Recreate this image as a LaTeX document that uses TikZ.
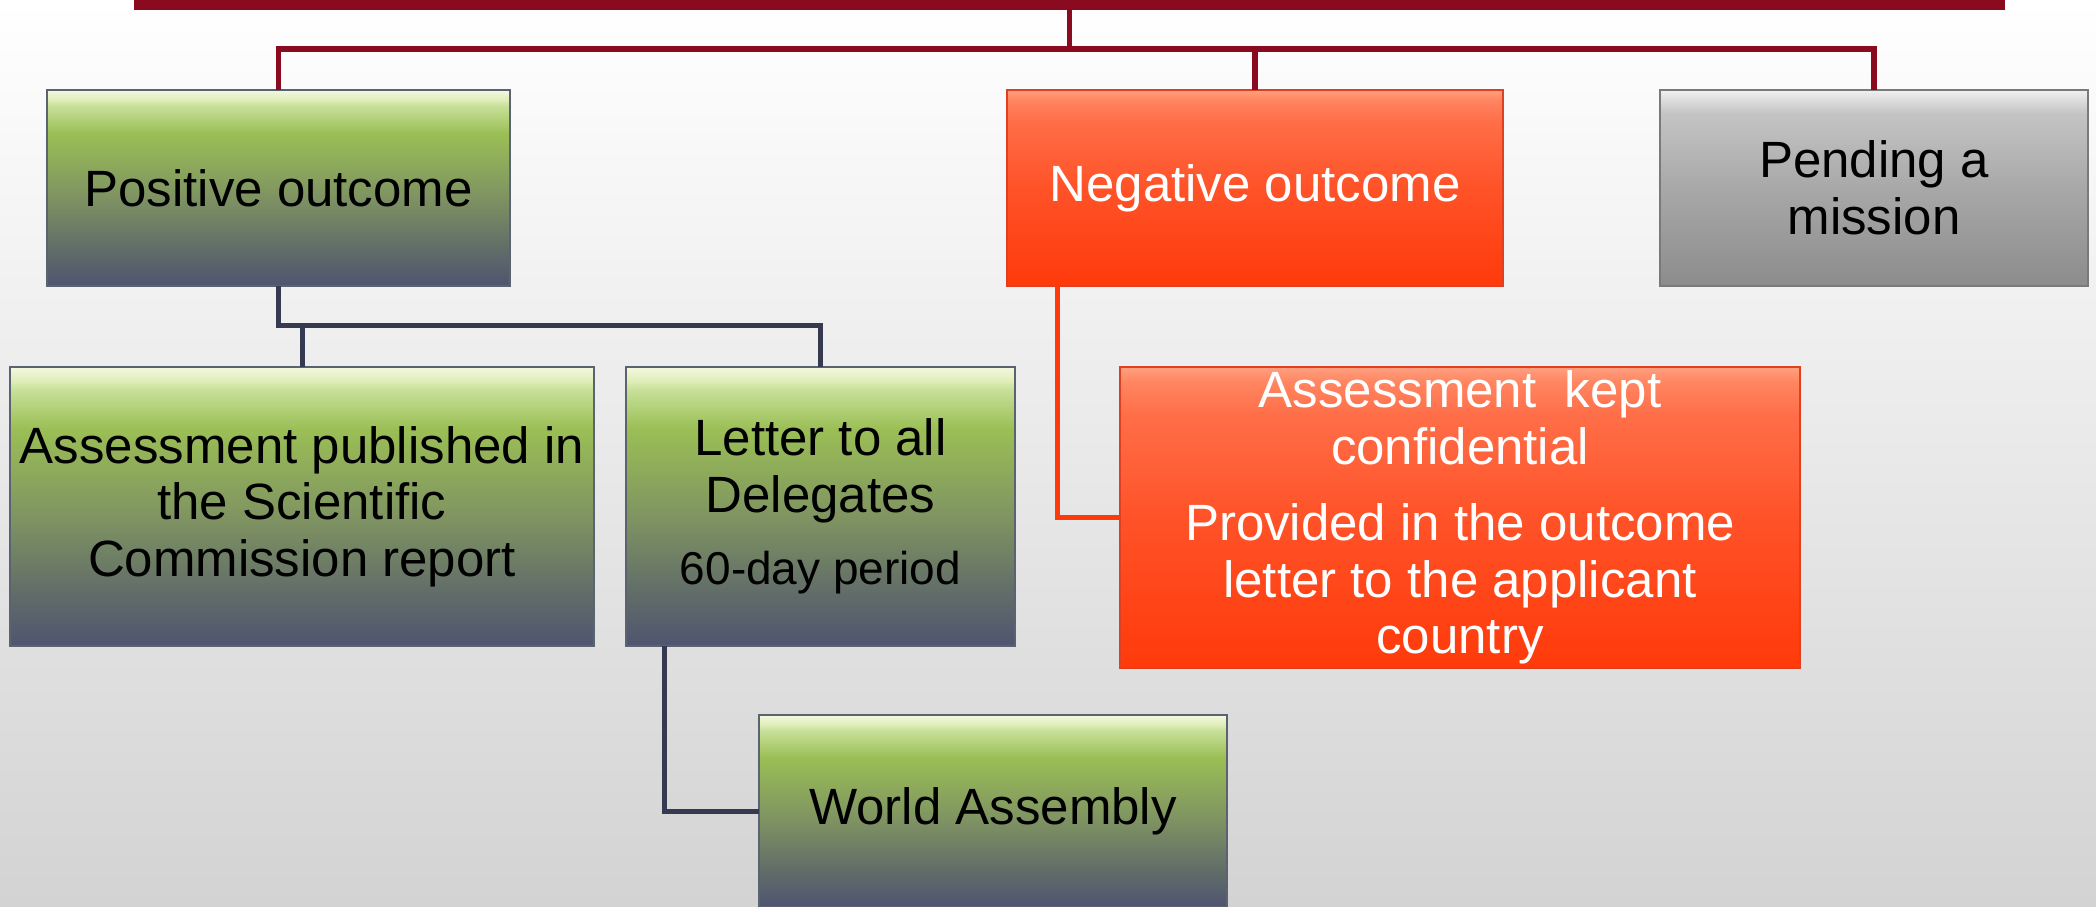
\documentclass[tikz,border=0pt]{standalone}
\usepackage{fontspec}
\setmainfont{Liberation Sans}
\definecolor{bgbot}{HTML}{D3D3D3}
\definecolor{lred}{HTML}{8A0B20}
\definecolor{ldark}{HTML}{363A50}
\definecolor{lorange}{HTML}{FF3A0A}
% green
\definecolor{g0}{HTML}{4F5470}
\definecolor{g1}{HTML}{626E68}
\definecolor{g2}{HTML}{7E9262}
\definecolor{g3}{HTML}{9BBF55}
\definecolor{g4}{HTML}{C8E09A}
\definecolor{g5}{HTML}{E0EDB8}
\definecolor{g6}{HTML}{F4F8E0}
\definecolor{gedge}{HTML}{5A6470}
% orange
\definecolor{o0}{HTML}{FF3A0A}
\definecolor{o1}{HTML}{FF5228}
\definecolor{o2}{HTML}{FF6E48}
\definecolor{o3}{HTML}{FF8560}
\definecolor{o4}{HTML}{FFA080}
\definecolor{oedge}{HTML}{E04020}
% grey
\definecolor{p0}{HTML}{8C8C8C}
\definecolor{p1}{HTML}{A8A8A8}
\definecolor{p2}{HTML}{C4C4C4}
\definecolor{p3}{HTML}{DDDDDD}
\definecolor{p4}{HTML}{F0F0F0}
\definecolor{pedge}{HTML}{7A7A7A}
\pgfdeclareverticalshading{greensh}{100bp}{color(0bp)=(g0); color(25bp)=(g0); color(35bp)=(g1); color(47.5bp)=(g2); color(64bp)=(g3); color(71bp)=(g4); color(72.5bp)=(g5); color(75bp)=(g6); color(100bp)=(g6)}
\pgfdeclareverticalshading{orangesh}{100bp}{color(0bp)=(o0); color(25bp)=(o0); color(50bp)=(o1); color(67bp)=(o2); color(72.5bp)=(o3); color(75bp)=(o4); color(100bp)=(o4)}
\pgfdeclareverticalshading{greysh}{100bp}{color(0bp)=(p0); color(25bp)=(p0); color(50bp)=(p1); color(69bp)=(p2); color(72.5bp)=(p3); color(75bp)=(p4); color(100bp)=(p4)}
\begin{document}
\begin{tikzpicture}[x=1pt,y=-1pt,
  basebox/.style={shade, line width=1.5pt, inner sep=0pt, outer sep=0pt, align=center,
    font=\fontsize{51}{56.5}\selectfont},
  gbox/.style={basebox, shading=greensh, draw=gedge, text=black},
  obox/.style={basebox, shading=orangesh, draw=oedge, text=white},
  pbox/.style={basebox, shading=greysh, draw=pedge, text=black},
  sz/.style 2 args={minimum width=#1, minimum height=#2},
  redline/.style={draw=lred, line width=5.5pt},
  darkline/.style={draw=ldark, line width=5pt},
  orangeline/.style={draw=lorange, line width=5pt}]
\useasboundingbox (0,0) rectangle (2096,906);
\clip (0,0) rectangle (2096,906);
\shade[top color=white, bottom color=bgbot] (0,0) rectangle (2096,906);

% top bar
\node (bar) [fill=lred, inner sep=0pt, outer sep=0pt, minimum width=1871pt, minimum height=19.5pt] at (1069.5,-0.25) {};

% first row
\node (pos)  [gbox, sz={463pt}{196pt}] at (278.5,188) {Positive outcome};
\node (neg)  [obox, sz={496pt}{196pt}] at (1255,188) {Negative outcome};
\node (pend) [pbox, sz={428pt}{196pt}] at (1874,188) {Pending a\\mission};

% second row
\node (apub)   [gbox, sz={584pt}{279pt}] at (302,506.5) {Assessment published in\\the Scientific\\Commission report};
\node (letter) [gbox, sz={389pt}{279pt}] at (820.5,506.5) {Letter to all\\Delegates\\[16pt]{\fontsize{46}{51}\selectfont 60-day period}};
\node (kept)   [obox, sz={680pt}{301pt}] at (1460,517.5) {Assessment~ kept\\confidential\\[20pt]Provided in the outcome\\letter to the applicant\\country};

% third row
\node (world) [gbox, sz={468pt}{192pt}] at (993,811) {World Assembly};

% connectors
\coordinate (hub) at (1069.5,49);
\coordinate (phub) at (278.5,325);
\draw[redline] (bar.south) -- (hub);
\draw[redline] (pos.north) |- (hub) -| (pend.north);
\draw[redline] (neg.north) -- (neg.north |- hub);
\draw[darkline] (pos.south) -- (phub) -| (letter.north);
\draw[darkline] (apub.north) -- (apub.north |- phub);
\draw[darkline] ([xshift=38pt]letter.south west) |- (world.west);
\draw[orangeline] ([xshift=50pt]neg.south west) |- (kept.west);
\end{tikzpicture}
\end{document}
